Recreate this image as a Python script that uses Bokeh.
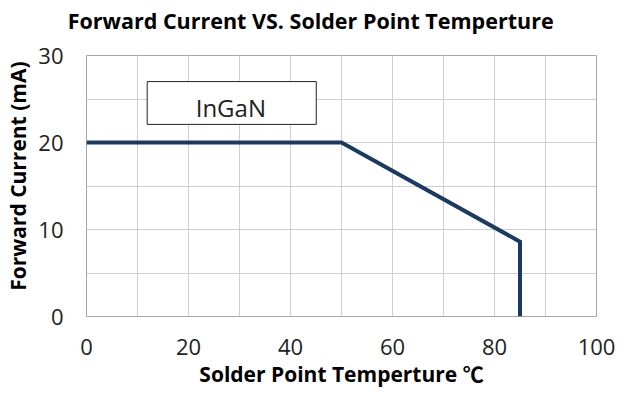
from bokeh.plotting import figure
from bokeh.models import Range1d, FixedTicker, BoxAnnotation, Label, LinearAxis
from bokeh.embed import file_html
from bokeh.resources import INLINE

# data
temperature = [0, 50, 85, 85]
forward_current = [20, 20, 8.6, 0]
x_ticks = [0, 20, 40, 60, 80, 100]
y_ticks = [0, 10, 20, 30]
x_grid = [0, 10, 20, 30, 40, 50, 60, 70, 80, 90, 100]
y_grid = [0, 5, 10, 15, 20, 25, 30]
series_label = "InGaN"
title_text = "Forward Current  VS. Solder Point Temperture"
x_label_text = "Solder Point Temperture \u2103"
y_label_text = "Forward Current (mA)"

FONT = "Open Sans"
LABEL_FONT = "Open Sans, Noto Sans CJK SC"

# anchor positions (data units) of the title and y label, as in the reference
TITLE_X = 44.5
YLABEL_Y = 16.13

p = figure(width=615, height=391, x_range=Range1d(0, 100), y_range=Range1d(0, 30),
           output_backend="svg", toolbar_location=None,
           min_border_left=86, min_border_right=19, min_border_top=55, min_border_bottom=75)

p.outline_line_color = "#A6A6A6"
p.outline_line_width = 1

p.xgrid.ticker = FixedTicker(ticks=x_grid)
p.ygrid.ticker = FixedTicker(ticks=y_grid)
p.xgrid.grid_line_color = "#CFCFCF"
p.ygrid.grid_line_color = "#CFCFCF"

p.xaxis.ticker = FixedTicker(ticks=x_ticks)
p.yaxis.ticker = FixedTicker(ticks=y_ticks)


def plain(ax):
    ax.axis_line_color = None
    ax.major_tick_line_color = None
    ax.minor_tick_line_color = None
    ax.major_tick_out = 0
    ax.major_tick_in = 0
    ax.minor_tick_out = 0
    ax.minor_tick_in = 0


for ax in (p.xaxis[0], p.yaxis[0]):
    plain(ax)
    ax.major_label_text_font = FONT
    ax.major_label_text_font_size = "22px"
    ax.major_label_text_color = "#222222"
p.xaxis.major_label_standoff = 22
p.yaxis.major_label_standoff = 23

# x axis title
p.xaxis.axis_label = x_label_text
p.xaxis.axis_label_text_font = LABEL_FONT
p.xaxis.axis_label_text_font_size = "21px"
p.xaxis.axis_label_text_font_style = "bold"
p.xaxis.axis_label_text_color = "#000000"
p.xaxis.axis_label_standoff = 2

# y axis title (outer left axis carrying one label)
yl = LinearAxis(ticker=FixedTicker(ticks=[YLABEL_Y]), major_label_overrides={YLABEL_Y: y_label_text},
                major_label_orientation="parallel", major_label_standoff=3)
plain(yl)
yl.major_label_text_font = LABEL_FONT
yl.major_label_text_font_size = "21px"
yl.major_label_text_font_style = "bold"
yl.major_label_text_color = "#000000"
p.add_layout(yl, "left")

# chart title (axis above carrying one label)
tl = LinearAxis(ticker=FixedTicker(ticks=[TITLE_X]), major_label_overrides={TITLE_X: title_text},
                major_label_standoff=21)
plain(tl)
tl.major_label_text_font = FONT
tl.major_label_text_font_size = "21.5px"
tl.major_label_text_font_style = "bold"
tl.major_label_text_color = "#000000"
p.add_layout(tl, "above")

p.line(temperature, forward_current, line_color="#1B3A63", line_width=4, line_join="miter")

# series label box
p.add_layout(BoxAnnotation(left=11.9, right=45.05, bottom=22.08, top=27.0,
                           fill_color="white", fill_alpha=1,
                           line_color="#222222", line_alpha=1, line_width=1))
p.add_layout(Label(x=28.3, y=24.05, text=series_label, text_align="center",
                   text_baseline="alphabetic", text_font=FONT, text_font_size="24px",
                   text_color="#222222"))

open("out.html", "w").write(file_html(p, INLINE))
